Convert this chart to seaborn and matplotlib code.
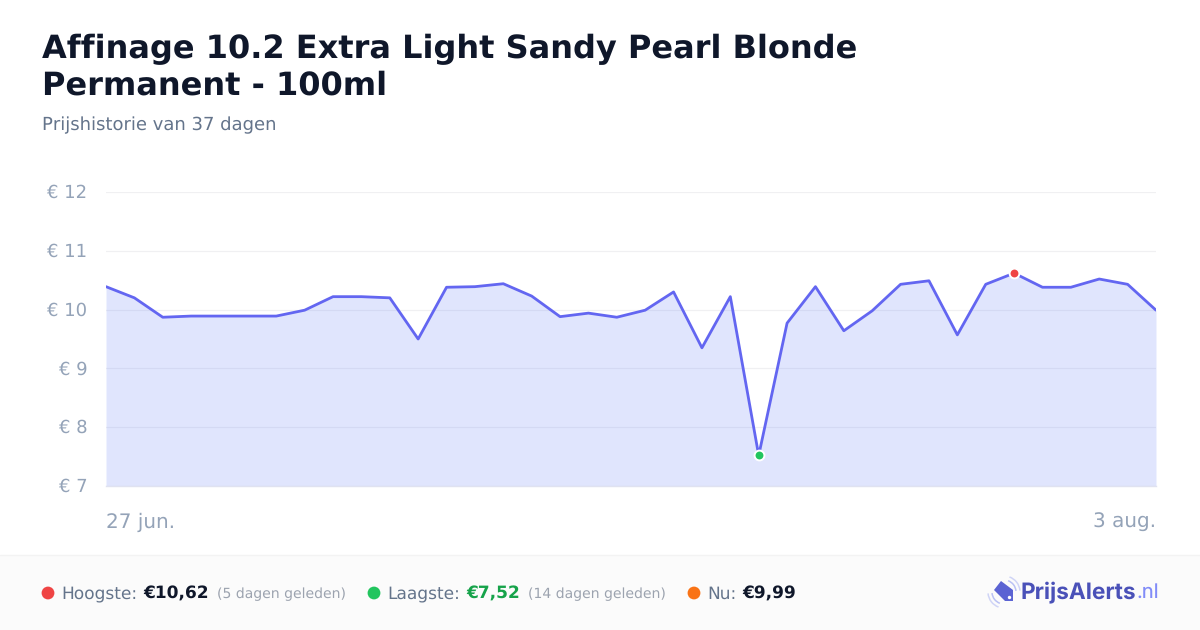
"""
plot.py - price history card for one product.
Run: python plot.py
"""

import pandas as pd
import matplotlib
matplotlib.use("Agg")
import matplotlib.pyplot as plt
import matplotlib.patches as mpatches
import matplotlib.transforms as mtransforms
import seaborn as sns

# ─── Data ───────────────────────────────────────────────────────
PRICES = [10.39, 10.20, 9.87, 9.89, 9.89, 9.89, 9.89, 9.99, 10.22, 10.22,
          10.20, 9.50, 10.38, 10.39, 10.44, 10.23, 9.88, 9.94, 9.87, 9.99,
          10.30, 9.35, 10.22, 7.52, 9.77, 10.39, 9.64, 9.98, 10.43, 10.49,
          9.57, 10.43, 10.62, 10.38, 10.38, 10.52, 10.43, 9.99]
DATES = pd.date_range("2025-06-27", periods=len(PRICES), freq="D")
Y_TICKS = [7, 8, 9, 10, 11, 12]
Y_LABELS = ["€ 7", "€ 8", "€ 9", "€ 10", "€ 11", "€ 12"]
TITLE_LINES = ["Affinage 10.2 Extra Light Sandy Pearl Blonde", "Permanent - 100ml"]
SUBTITLE = "Prijshistorie van 37 dagen"

INDIGO = "#6366f1"
SLATE = "#64748b"
MUTED = "#94a3b8"
DARK = "#0f172a"
RED = "#ef4444"
GREEN = "#22c55e"
ORANGE = "#f97316"
W, H = 1200, 630

sns.set_theme(style="white")
plt.rcParams["font.family"] = ["DejaVu Sans"]
plt.rcParams["text.hinting"] = "no_hinting"
plt.rcParams["text.hinting_factor"] = 1

df = pd.DataFrame({"date": DATES, "price": PRICES})

fig = plt.figure(figsize=(12, 6.3), dpi=100, facecolor="white")

# pixel overlay for the header and footer
bg = fig.add_axes([0, 0, 1, 1], zorder=0)
bg.set_xlim(0, W)
bg.set_ylim(H, 0)
bg.axis("off")

# ─── Chart ──────────────────────────────────────────────────────
ax = fig.add_axes([106 / W, 1 - 486 / H, 1050 / W, 294 / H], zorder=1)
ax.patch.set_alpha(0)
ax.fill_between(df["date"], df["price"], 7, color="#6680f8", alpha=0.2, lw=0, zorder=2)
sns.lineplot(data=df, x="date", y="price", ax=ax, color=INDIGO, linewidth=2.0,
             zorder=3, errorbar=None)

high = df.loc[df["price"].idxmax()]
low = df.loc[df["price"].idxmin()]
for pt, col in [(high, RED), (low, GREEN)]:
    ax.scatter([pt["date"]], [pt["price"]], s=50, color=col, edgecolor="white",
               linewidth=1.4, zorder=4, clip_on=False)

ax.set_xlim(DATES[0], DATES[-1])
ax.set_ylim(7, 12)
ax.set_yticks(Y_TICKS, Y_LABELS)
ax.set_xticks([DATES[0], DATES[-1]], ["27 jun.", "3 aug."])
ax.set_xlabel("")
ax.set_ylabel("")
ax.grid(axis="y", color="#f0f0f2", linewidth=0.9, zorder=1)
ax.set_axisbelow(True)
ax.tick_params(axis="y", length=0, pad=13.5, labelsize=12.8, labelcolor=MUTED)
ax.tick_params(axis="x", length=0, pad=19, labelsize=14.5, labelcolor=MUTED)
# nudge y labels one pixel down
nudge = mtransforms.ScaledTranslation(0, -1 / 100, fig.dpi_scale_trans)
for lab in ax.get_yticklabels():
    lab.set_verticalalignment("center")
    lab.set_transform(lab.get_transform() + nudge)
labels = ax.get_xticklabels()
labels[0].set_ha("left")
labels[1].set_ha("right")
sns.despine(ax=ax, left=True, top=True, right=True, bottom=False)
ax.spines["bottom"].set_color("#e0e2f0")
ax.spines["bottom"].set_linewidth(1.0)

# ─── Header ─────────────────────────────────────────────────────
for y, line in zip([49, 86], TITLE_LINES):
    bg.text(42, y, line, fontsize=22.8, fontweight="bold", color=DARK, va="center", ha="left")
bg.text(42, 125, SUBTITLE, fontsize=13, color=SLATE, va="center", ha="left")

# ─── Footer ─────────────────────────────────────────────────────
bg.add_patch(mpatches.Rectangle((0, 555), W, H - 555, color="#fbfbfb", lw=0))
bg.plot([0, W], [555, 555], color="#f3f3f3", lw=1)

FY = 594
bg.scatter([48, 374, 694], [593, 593, 593], s=85, color=[RED, GREEN, ORANGE], lw=0)
bg.text(61.5, FY, "Hoogste:", fontsize=12.2, color=SLATE, va="center")
bg.text(143, FY, "€10,62", fontsize=12.4, fontweight="bold", color=DARK, va="center")
bg.text(217, FY, "(5 dagen geleden)", fontsize=10.1, color="#9ca3af", va="center")
bg.text(387.5, FY, "Laagste:", fontsize=12.2, color=SLATE, va="center")
bg.text(466, FY, "€7,52", fontsize=12.4, fontweight="bold", color="#16a34a", va="center")
bg.text(528, FY, "(14 dagen geleden)", fontsize=10.1, color="#9ca3af", va="center")
bg.text(707.5, FY, "Nu:", fontsize=12.2, color=SLATE, va="center")
bg.text(742, FY, "€9,99", fontsize=12.4, fontweight="bold", color=DARK, va="center")

# logo: tag shape with small signal arcs
tag = mpatches.Polygon([(994, 590), (1001, 581), (1013, 590), (1013, 601), (1005, 601)],
                       closed=True, color="#5b63d3", lw=0)
bg.add_patch(tag)
bg.scatter([1009], [597], s=6, color="white", lw=0)
for r, a in [(12, 0.6), (16, 0.4)]:
    bg.add_patch(mpatches.Arc((1004, 592), r * 2, r * 2, theta1=-70, theta2=-5,
                              color="#8f9bf0", alpha=a, lw=1.1))
    bg.add_patch(mpatches.Arc((1004, 592), r * 2, r * 2, theta1=110, theta2=175,
                              color="#8f9bf0", alpha=a, lw=1.1))
bg.text(1021, 593, "PrijsAlerts", fontsize=16.3, fontweight="bold", family="Inter",
        color="#4a51b8", va="center")
bg.text(1137, 593, ".nl", fontsize=14.5, family="Inter", color="#818cf8", va="center")

fig.savefig("out.png", dpi=100)
